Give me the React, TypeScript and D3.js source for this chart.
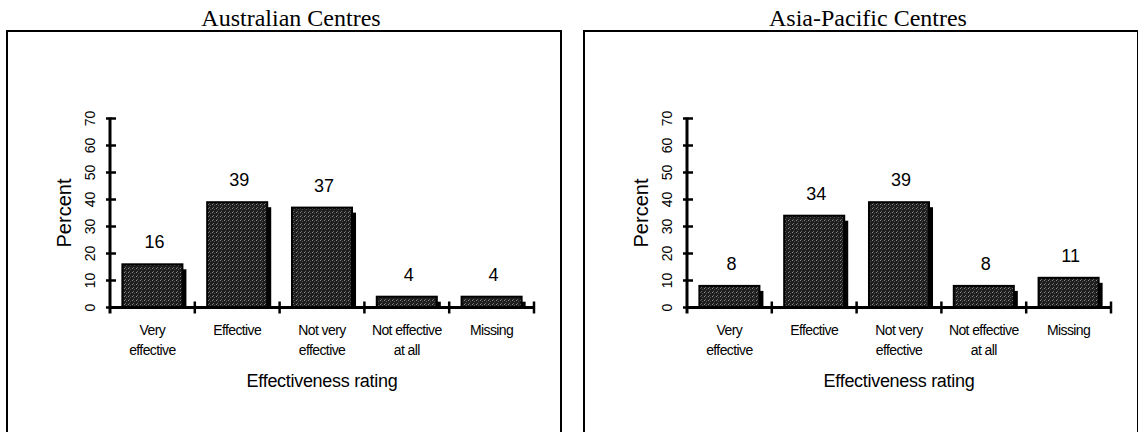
import React from "react";
import * as d3 from "d3";

const categories = ["Very effective", "Effective", "Not very effective", "Not effective at all", "Missing"];
const categoryLines = [["Very", "effective"], ["Effective"], ["Not very", "effective"], ["Not effective", "at all"], ["Missing"]];
const australianValues = [16, 39, 37, 4, 4];
const asiaPacificValues = [8, 34, 39, 8, 11];
const yTicks = [0, 10, 20, 30, 40, 50, 60, 70];

const SANS = "'Liberation Sans', Arial, sans-serif";
const SERIF = "'Liberation Serif', 'Times New Roman', serif";

interface PanelProps {
  title: string;
  values: number[];
  left: number; // left edge of the frame
}

const Panel: React.FC<PanelProps> = ({ title, values, left }) => {
  const axisX = left + 103;
  const baseY = 307.5;

  const x = d3
    .scaleBand<string>()
    .domain(categories)
    .range([axisX, axisX + 424])
    .paddingInner(0.292)
    .paddingOuter(0.146);

  const y = d3.scaleLinear().domain([0, 70]).range([baseY, 118.5]);

  const gap = (x.step() - x.bandwidth()) / 2;
  const bounds = categories.map((c) => x(c)! - gap);
  bounds.push(x(categories[categories.length - 1])! + x.bandwidth() + gap);

  const frameRight = left + 554;
  const center = (axisX + axisX + 424) / 2;

  return (
    <g>
      <text
        x={(left + frameRight) / 2 + 7}
        y={26}
        textAnchor="middle"
        fontFamily={SERIF}
        fontSize={24}
        fill="#000"
      >
        {title}
      </text>
      {/* frame, bottom runs off the page */}
      <path
        d={`M${left},440 V31 H${frameRight} V440`}
        fill="none"
        stroke="#000"
        strokeWidth={2}
      />

      {/* bars with drop shadow */}
      {values.map((v, i) => {
        const bx = x(categories[i])!;
        const bw = x.bandwidth();
        const top = y(v);
        return (
          <g key={categories[i]}>
            <rect x={bx + 4} y={top + 5} width={bw} height={baseY - top - 5} fill="#000" />
            <rect
              x={bx}
              y={top}
              width={bw}
              height={baseY - top}
              fill="url(#stipple)"
              stroke="#000"
              strokeWidth={2}
            />
            <text
              x={bx + bw / 2 + 2}
              y={top - 16}
              textAnchor="middle"
              fontFamily={SANS}
              fontSize={18}
              fill="#000"
            >
              {v}
            </text>
          </g>
        );
      })}

      {/* y axis */}
      <line x1={axisX} x2={axisX} y1={y(70) - 1} y2={baseY + 6} stroke="#000" strokeWidth={3} />
      {yTicks.map((t) => (
        <g key={t}>
          <line x1={axisX - 4} x2={axisX + 6} y1={y(t)} y2={y(t)} stroke="#000" strokeWidth={2.5} />
          <text
            transform={`translate(${axisX - 15},${y(t)}) rotate(-90)`}
            textAnchor="middle"
            fontFamily={SANS}
            fontSize={14}
            fill="#000"
          >
            {t}
          </text>
        </g>
      ))}
      <text
        transform={`translate(${axisX - 39},${(y(0) + y(70)) / 2}) rotate(-90)`}
        textAnchor="middle"
        fontFamily={SANS}
        fontSize={20}
        fill="#000"
      >
        Percent
      </text>

      {/* x axis */}
      <line x1={axisX} x2={bounds[bounds.length - 1]} y1={baseY} y2={baseY} stroke="#000" strokeWidth={3} />
      {bounds.slice(1).map((bx, i) => (
        <line key={i} x1={bx} x2={bx} y1={baseY - 6} y2={baseY + 6} stroke="#000" strokeWidth={2.5} />
      ))}
      {categoryLines.map((lines, i) => (
        <text
          key={i}
          x={x(categories[i])! + x.bandwidth() / 2}
          y={baseY + 27}
          textAnchor="middle"
          fontFamily={SANS}
          fontSize={14}
          letterSpacing={-0.6}
          fill="#000"
        >
          {lines.map((l, j) => (
            <tspan key={j} x={x(categories[i])! + x.bandwidth() / 2} dy={j === 0 ? 0 : 20}>
              {l}
            </tspan>
          ))}
        </text>
      ))}
      <text
        x={center}
        y={387}
        textAnchor="middle"
        fontFamily={SANS}
        fontSize={18}
        letterSpacing={-0.3}
        fill="#000"
      >
        Effectiveness rating
      </text>
    </g>
  );
};

export default function App() {
  return (
    <svg
      width={1138}
      height={432}
      style={{ position: "absolute", left: 0, top: 0, background: "#fff" }}
    >
      <defs>
        <pattern id="stipple" width={4} height={4} patternUnits="userSpaceOnUse">
          <rect width={4} height={4} fill="#1e1e1e" />
          <rect x={0} y={0} width={1} height={1} fill="#8a8a8a" />
          <rect x={2} y={1} width={1} height={1} fill="#555" />
          <rect x={1} y={3} width={1} height={1} fill="#6a6a6a" />
        </pattern>
      </defs>
      <rect width={1138} height={432} fill="#fff" />
      <Panel title="Australian Centres" values={australianValues} left={7} />
      <Panel title="Asia-Pacific Centres" values={asiaPacificValues} left={584} />
    </svg>
  );
}
